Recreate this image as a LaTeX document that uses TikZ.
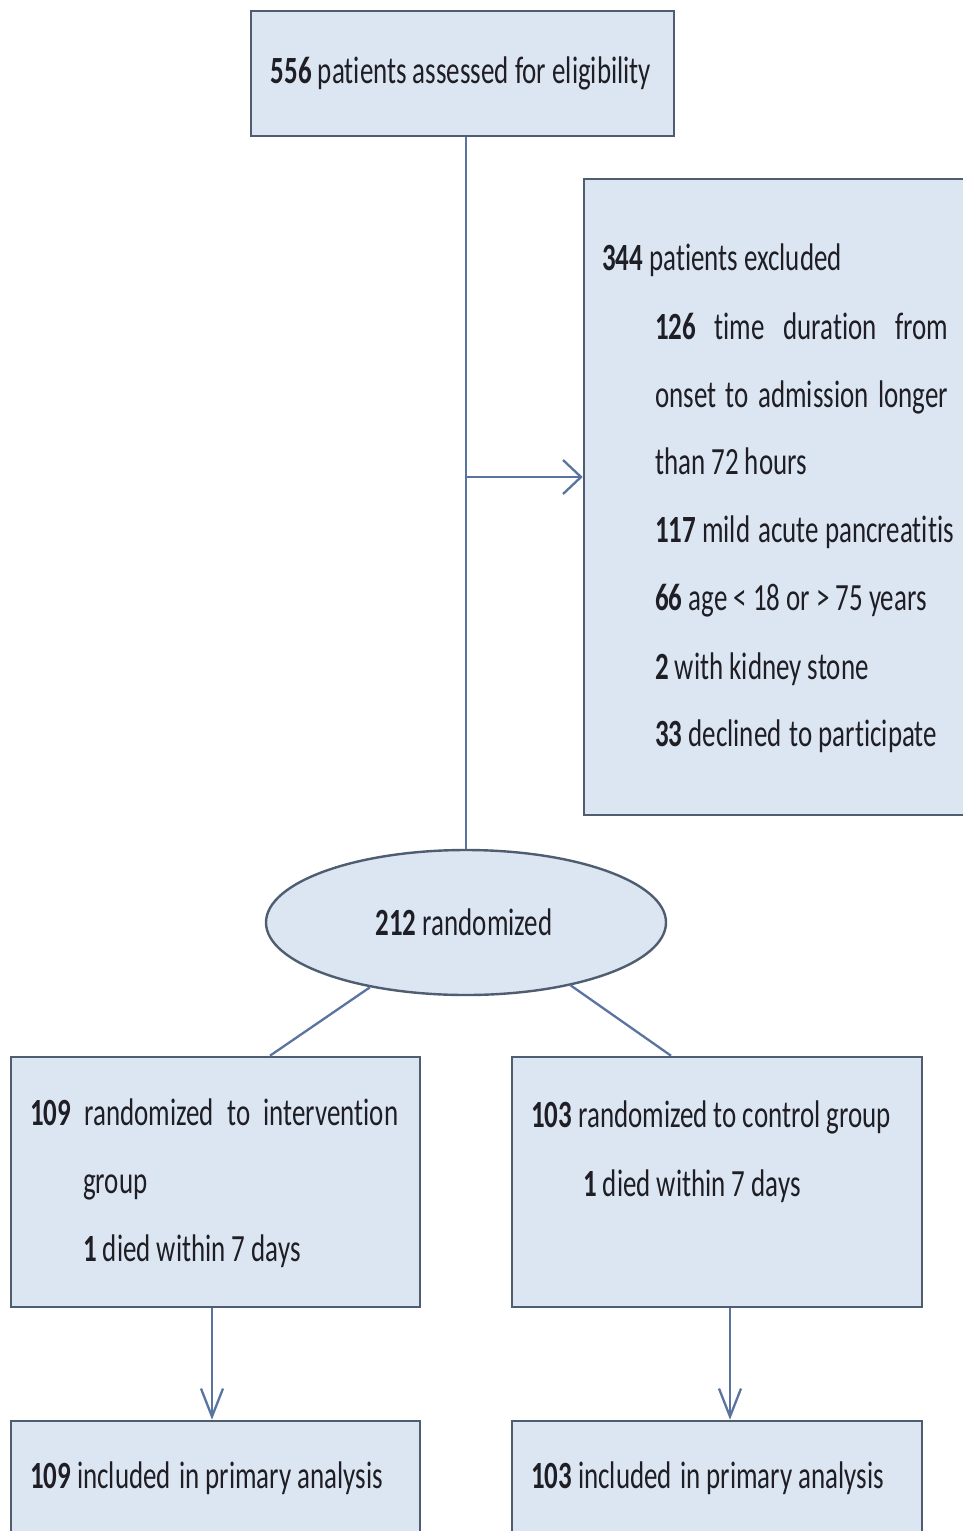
\documentclass[tikz,border=0pt]{standalone}
\usepackage{fontspec}
\setmainfont{Carlito}[FakeStretch=0.70, Ligatures={TeX,NoCommon}]
\usetikzlibrary{shapes.geometric,arrows.meta}
\definecolor{boxfill}{HTML}{DCE6F2}
\definecolor{boxdraw}{HTML}{4F5D70}
\definecolor{linecol}{HTML}{5A74A0}
\definecolor{txtcol}{HTML}{1E1E24}
\newcommand{\wsp}{\ \hspace{2pt}}
\tikzset{
  box/.style={draw=boxdraw, fill=boxfill, line width=2.6pt, rectangle, inner sep=0pt},
  oval/.style={draw=boxdraw, fill=boxfill, line width=2.4pt, ellipse, inner sep=0pt},
  txt/.style={anchor=base west, inner sep=0pt, text=txtcol, font=\fontsize{38.5}{40}\selectfont},
  ctxt/.style={anchor=base, inner sep=0pt, text=txtcol, font=\fontsize{38.5}{40}\selectfont},
  conn/.style={draw=linecol, line width=2.3pt},
  harrow/.style={conn, -{Straight Barb[length=18pt,width=34pt,line width=2.3pt]}},
  varrow/.style={conn, -{Straight Barb[length=28pt,width=22pt,line width=2.3pt]}}
}
\begin{document}
\begin{tikzpicture}[x=1pt,y=-1pt]
\useasboundingbox (0,0) rectangle (962,1531);
\fill[white] (0,0) rectangle (962,1531);
% boxes
\node[box, minimum width=423, minimum height=125] (top) at (462.5,73.5) {};
\node[box, minimum width=391, minimum height=636] (excl) at (779.5,497) {};
\node[oval, minimum width=400, minimum height=145] (rand) at (466,922.5) {};
\node[box, minimum width=409, minimum height=250] (lbox) at (215.5,1182) {};
\node[box, minimum width=410, minimum height=250] (rbox) at (717,1182) {};
\node[box, minimum width=409, minimum height=124] (lbot) at (215.5,1483) {};
\node[box, minimum width=410, minimum height=124] (rbot) at (717,1483) {};
% texts
\node[ctxt] (t0) at (461,83) {\textbf{556} patients assessed for eligibility};
\node[txt] (e0) at (602,270) {\textbf{344} patients excluded};
\node[txt] (e1) at (655,339) {\makebox[293pt][s]{\textbf{126} time duration from}};
\node[txt] (e2) at (655,407) {\makebox[293pt][s]{onset to admission longer}};
\node[txt] (e3) at (655,474) {than 72 hours};
\node[txt] (e4) at (655,542) {\textbf{117} mild\wsp acute pancreatitis};
\node[txt] (e5) at (655,610) {\textbf{66} age < 18 or > 75 years};
\node[txt] (e6) at (655,679) {\textbf{2} with kidney stone};
\node[txt] (e7) at (655,746) {\textbf{33} declined\wsp to participate};
\node[ctxt] (r0) at (464,935) {\textbf{212} randomized};
\node[txt] (l0) at (30,1125) {\makebox[368pt][s]{\textbf{109} randomized to intervention}};
\node[txt] (l1) at (83,1193) {group};
\node[txt] (l2) at (83,1261) {\textbf{1} died within 7 days};
\node[txt] (c0) at (531,1127) {\textbf{103} randomized to control group};
\node[txt] (c1) at (583,1196) {\textbf{1} died within 7 days};
\node[txt] (b0) at (30,1488) {\textbf{109} included\wsp in primary analysis};
\node[txt] (b1) at (531,1488) {\textbf{103} included\wsp in primary analysis};
% connectors
\coordinate (j) at (466,477);
\draw[conn] ([xshift=3.5pt]top.south) -- (rand.north);
\draw[harrow] (j) -- (j -| excl.west);
\draw[conn] (rand.214) -- ([xshift=54.5pt]lbox.north);
\draw[conn] (rand.329) -- ([xshift=-46pt]rbox.north);
\draw[varrow] ([xshift=-3.5pt]lbox.south) -- ([xshift=-3.5pt]lbot.north);
\draw[varrow] ([xshift=13pt]rbox.south) -- ([xshift=13pt]rbot.north);
\end{tikzpicture}
\end{document}
